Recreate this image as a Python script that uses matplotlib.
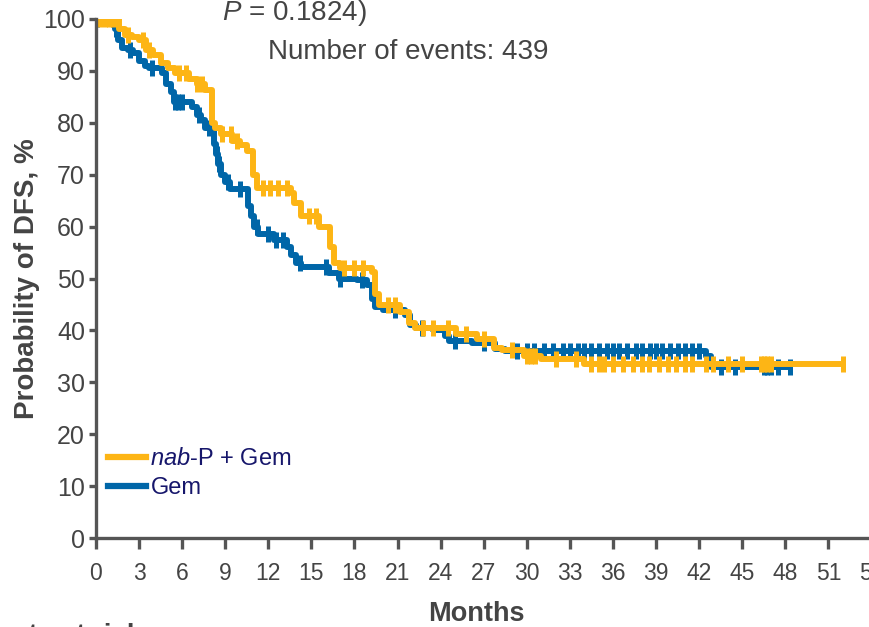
import numpy as np
import matplotlib
matplotlib.use("Agg")
import matplotlib.pyplot as plt
from matplotlib.lines import Line2D

plt.rcParams['font.family'] = ['Liberation Sans', 'DejaVu Sans']
plt.rcParams['mathtext.fontset'] = 'custom'
plt.rcParams['mathtext.rm'] = 'Liberation Sans'
plt.rcParams['mathtext.it'] = 'Liberation Sans:italic'
plt.rcParams['mathtext.bf'] = 'Liberation Sans:bold'

# ---- data (months, DFS %) ----
nab_t = [0, 1.6, 2.0, 2.5, 3.0, 3.5, 4.0, 4.5, 5.0, 5.5, 6.5, 7.0, 7.6, 8.1, 8.3, 8.7, 9.5, 10.0,
         10.5, 10.9, 11.2, 13.6, 13.8, 14.3, 15.5, 16.3, 16.6, 17.0, 19.2, 19.4, 19.7, 21.2,
         21.8, 22.2, 25.1, 26.5, 27.7, 28.3, 29.8, 31.0, 34.0]
nab_s = [100, 98, 97, 96.5, 96, 94, 93, 91.5, 90.5, 89.5, 88.5, 87.5, 86.3, 80, 79, 77.8, 76.5, 75.8,
         74.5, 70, 67.5, 66.5, 64.5, 62, 60, 56, 53, 52, 51.3, 47, 44.8, 43.5,
         41.5, 40.4, 39.4, 38.4, 36.6, 36.2, 35.0, 34.4, 33.6]
nab_end = 52.0
nab_cens = [0.3, 0.6, 0.9, 1.2, 1.5, 2.2, 3.3, 3.7, 5.8, 6.3, 7.0, 7.4, 8.8, 9.4, 9.8, 11.6, 12.1,
            12.7, 13.3, 14.8, 15.3, 17.3, 18.0, 18.6, 20.3, 20.8, 22.8, 23.5, 24.5, 25.8, 27.0,
            29.0, 30.0, 30.3, 30.6, 32.0, 33.4, 34.5, 35.0, 35.4, 36.0, 36.7, 37.4, 38.0, 38.5,
            39.2, 39.8, 40.4, 41.0, 41.5, 42.5, 43.0, 44.0, 45.0, 46.3, 46.5, 46.7, 47.0, 52.0]

gem_t = [0, 1.3, 1.5, 1.8, 2.2, 2.6, 3.0, 3.4, 3.7, 4.6, 4.9, 5.2, 5.4, 6.7, 7.0, 7.3, 7.6, 8.0,
         8.2, 8.35, 8.5, 8.7, 9.0, 9.3, 10.6, 10.8, 11.0, 11.3, 12.4, 13.3, 13.6, 13.9, 14.3,
         16.2, 16.9, 18.2, 18.9, 19.2, 19.4, 20.0, 21.5, 21.9, 22.3, 23.5, 24.3, 24.6, 26.2,
         27.8, 28.5, 42.5, 42.8]
gem_s = [100, 98, 96, 94.5, 94, 93.5, 92, 91, 90.5, 89.5, 87.5, 86, 84, 83, 81.5, 80.5, 79, 78.5,
         76, 74, 72, 70, 68.5, 67.3, 64, 62, 60, 58.5, 57.5, 56, 54.5, 53, 52.2,
         51, 50, 49.7, 48.7, 46, 44.5, 44, 43, 41, 40.5, 40, 39, 38, 37.6,
         36.5, 36.0, 35, 33]
gem_end = 48.3
gem_cens = [0.1, 1.2, 1.4, 2.4, 3.9, 5.5, 5.7, 6.0, 7.2, 7.9, 8.4, 8.6, 9.2, 10.0, 11.2, 12.0,
            12.5, 13.0, 14.2, 16.0, 17.0, 18.5, 20.8, 22.7, 25.0, 27.0, 29.3, 30.0, 30.5, 31.2,
            31.8, 32.5, 33.0, 33.6, 34.0, 34.5, 35.0, 35.6, 36.0, 36.4, 37.0, 37.6, 38.0, 38.6,
            39.0, 39.4, 40.0, 40.5, 41.0, 41.5, 42.0, 43.5, 44.5, 46.5, 46.7, 47.0, 47.5, 48.3]

xticks = list(range(0, 55, 3))
yticks = list(range(0, 101, 10))

ORANGE = '#FDB515'
BLUE = '#0066A8'
GREY = '#444444'
NAVY = '#16166B'

fig = plt.figure(figsize=(8.69, 6.27), dpi=100)
ax = fig.add_axes([96/869, 89/627, 54.5*14.36/869, 519/627])


def draw(t, s, end, cens, color, z):
    tt = list(t) + [end]
    ss = list(s) + [s[-1]]
    ax.step(tt, ss, where='post', color=color, lw=4.3, zorder=z)
    c = np.array(cens)
    idx = np.searchsorted(np.array(t), c, side='right') - 1
    cy = np.array(s)[idx]
    ax.plot(c, cy, ls='none', marker='|', ms=12, mew=3.6, color=color, zorder=z)


draw(gem_t, gem_s, gem_end, gem_cens, BLUE, 3)
draw(nab_t, nab_s, nab_end, nab_cens, ORANGE, 4)

ax.set_xlim(0, 54.5)
ax.set_ylim(0, 100)
ax.set_xticks(xticks)
ax.set_yticks(yticks)
ax.set_xticklabels([str(v) for v in xticks], fontsize=16.5, color=GREY)
ax.set_yticklabels([str(v) for v in yticks], fontsize=18, color=GREY)
for sp in ['top', 'right']:
    ax.spines[sp].set_visible(False)
for sp in ['left', 'bottom']:
    ax.spines[sp].set_color('#555555')
    ax.spines[sp].set_linewidth(2.4)
ax.tick_params(axis='x', direction='out', length=8, width=2.4, color='#555555', pad=9)
ax.tick_params(axis='y', direction='out', length=5, width=2.4, color='#555555', pad=3)
ax.spines['bottom'].set_zorder(5)
ax.spines['left'].set_zorder(5)

ax.set_ylabel('Probability of DFS, %', fontsize=20, fontweight='bold', color=GREY, labelpad=2)
fig.text(476/869, (627-621)/627, 'Months', fontsize=19.5, fontweight='bold', color=GREY,
         ha='center', va='baseline')

fig.text(222/869, (627-20)/627, r'$\mathit{P}$ = 0.1824)', fontsize=20, color=GREY,
         ha='left', va='baseline')
fig.text(268/869, (627-59)/627, 'Number of events: 439', fontsize=20, color=GREY,
         ha='left', va='baseline')
fig.text(142/869, (627-643)/627, 'Patients at risk', fontsize=20, fontweight='bold', color=GREY,
         ha='right', va='baseline')

handles = [Line2D([], [], color=ORANGE, lw=4.5), Line2D([], [], color=BLUE, lw=4.5)]
leg = ax.legend(handles, [r'$\mathit{nab}$-P + Gem', 'Gem'], loc='upper left',
                bbox_to_anchor=(108/869, (627-448)/627), bbox_transform=fig.transFigure,
                frameon=False, fontsize=17, handlelength=1.6, handletextpad=0.2,
                labelspacing=0.3, borderpad=0, borderaxespad=0)
for txt in leg.get_texts():
    txt.set_color(NAVY)

fig.savefig('out.png', dpi=100)
